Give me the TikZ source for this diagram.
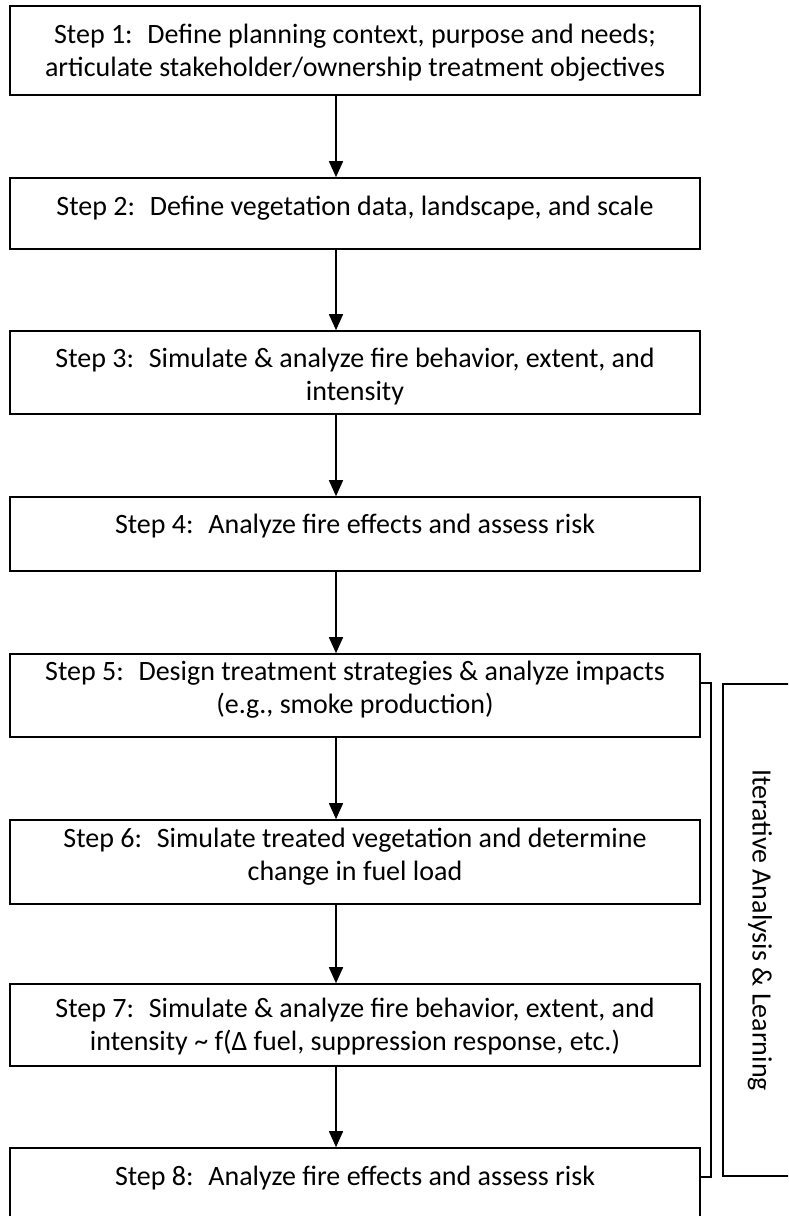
\documentclass[tikz,border=0pt]{standalone}
\usepackage{fontspec}
\setmainfont{Carlito}
\usetikzlibrary{arrows.meta}
\begin{document}
\begin{tikzpicture}[x=1pt,y=-1pt,
    stepbox/.style={draw, line width=1.6pt, minimum width=690pt, inner sep=0pt},
    steptext/.style={align=center, inner sep=0pt, font=\fontsize{28}{33}\selectfont},
    flow/.style={line width=1.6pt, -{Triangle[width=14pt,length=16pt]}}]
  \useasboundingbox (0,0) rectangle (788,1216);
  \clip (0,0) rectangle (788,1216);

  \node[stepbox, minimum height=89pt] (s1) at (355,50.5) {};
  \node[stepbox, minimum height=71pt] (s2) at (355,213.5) {};
  \node[stepbox, minimum height=83pt] (s3) at (355,372.5) {};
  \node[stepbox, minimum height=74pt] (s4) at (355,534) {};
  \node[stepbox, minimum height=83pt] (s5) at (355,695.5) {};
  \node[stepbox, minimum height=84pt] (s6) at (355,862) {};
  \node[stepbox, minimum height=82pt] (s7) at (355,1025) {};
  \node[stepbox, minimum height=74pt] (s8) at (355,1185) {};

  \node[steptext] (t1) at (355,52.5) {Step 1:~ Define planning context, purpose and needs;\\articulate stakeholder/ownership treatment objectives};
  \node[steptext] (t2) at (355,208) {Step 2:~ Define vegetation data, landscape, and scale};
  \node[steptext] (t3) at (355,377) {Step 3:~ Simulate \& analyze fire behavior, extent, and\\intensity};
  \node[steptext] (t4) at (355,526) {Step 4:~ Analyze fire effects and assess risk};
  \node[steptext] (t5) at (355,689.5) {Step 5:~ Design treatment strategies \& analyze impacts\\(e.g., smoke production)};
  \node[steptext] (t6) at (355,856.5) {Step 6:~ Simulate treated vegetation and determine\\change in fuel load};
  \node[steptext] (t7) at (355,1027) {Step 7:~ Simulate \& analyze fire behavior, extent, and\\intensity \textasciitilde{} f(Δ fuel, suppression response, etc.)};
  \node[steptext] (t8) at (355,1178) {Step 8:~ Analyze fire effects and assess risk};

  \node[draw, line width=1.6pt, rotate=-90, minimum width=492pt, minimum height=74pt,
    steptext] (iter) at (760,930) {Iterative Analysis \& Learning};

  \coordinate (ax) at (336,0);
  \foreach \a/\b in {s1/s2,s2/s3,s3/s4,s4/s5,s5/s6,s6/s7,s7/s8}
    \draw[flow] (\a.south -| ax) -- (\b.north -| ax);

  \draw[line width=1.6pt] (s5.east |- iter.west) -- ++(10,0) |- (s8.east |- iter.east);
\end{tikzpicture}
\end{document}
